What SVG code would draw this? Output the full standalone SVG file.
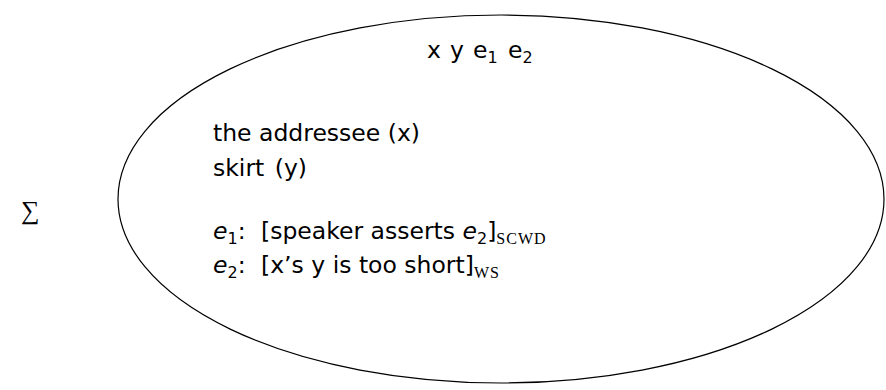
<svg xmlns="http://www.w3.org/2000/svg" width="886" height="390" viewBox="0 0 886 390">
<style>
.t{font-family:"DejaVu Sans","Liberation Sans",sans-serif;font-size:23.5px;fill:#000}
.it{font-style:italic}
.sub{font-size:16px}
.sc{font-family:"Liberation Serif",serif;font-size:16px;letter-spacing:1px}
.sig{font-family:"Liberation Serif","DejaVu Serif",serif;font-size:26px;fill:#000}
</style>
<rect width="886" height="390" fill="#fff"/>
<text class="sig" x="21" y="219">∑</text>
<g id="box">
<ellipse cx="501" cy="199" rx="383" ry="184" fill="none" stroke="#000" stroke-width="1.2"/>
<text class="t" y="58"><tspan x="427">x</tspan><tspan x="450">y</tspan><tspan x="473">e</tspan><tspan class="sub" dy="5">1</tspan><tspan x="508" dy="-5">e</tspan><tspan class="sub" dy="5">2</tspan></text>
<text class="t" x="213" y="141">the addressee (x)</text>
<text class="t" x="213" y="176" word-spacing="3">skirt (y)</text>
<text class="t" x="213" y="239"><tspan class="it">e</tspan><tspan class="sub" dy="5">1</tspan><tspan dy="-5">:</tspan><tspan x="261">[speaker asserts </tspan><tspan class="it">e</tspan><tspan class="sub" dy="5">2</tspan><tspan dy="-5">]</tspan><tspan class="sc" dy="5">SCWD</tspan></text>
<text class="t" x="213" y="273"><tspan class="it">e</tspan><tspan class="sub" dy="5">2</tspan><tspan dy="-5">:</tspan><tspan x="261">[x’s y is too short]</tspan><tspan class="sc" dy="5">WS</tspan></text>
</g>
</svg>
